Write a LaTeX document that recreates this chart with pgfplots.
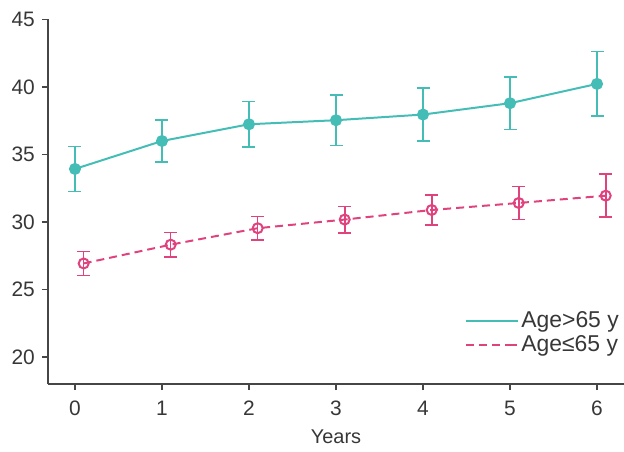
\documentclass[border=0pt]{standalone}
\usepackage{fontspec}
\setmainfont{Liberation Sans}
\usepackage{pgfplots}
\pgfplotsset{compat=1.18}
\definecolor{tealc}{RGB}{68,189,182}
\definecolor{magc}{RGB}{224,66,126}
\definecolor{axc}{RGB}{70,70,70}
\definecolor{txc}{RGB}{55,55,55}
\begin{document}
\fontsize{21}{24}\selectfont
\begin{tikzpicture}
\begin{axis}[
  scale only axis,
  width=576bp, height=364.5bp,
  xmin=-0.31, xmax=6.31,
  ymin=18, ymax=45,
  axis lines=left,
  axis line style={-, axc, line width=1.3pt},
  tick style={axc, line width=1.3pt},
  tick align=outside,
  major tick length=6bp,
  xtick={0,...,6},
  ytick={20,25,...,45},
  xlabel={Years},
  xticklabel style={yshift=-4bp},
  xlabel style={yshift=-6bp, inner ysep=1bp},
  tick label style={font=\fontsize{21}{24}\selectfont, text=txc},
  label style={font=\fontsize{20}{24}\selectfont, text=txc},
  /pgf/number format/assume math mode=true,
  legend style={draw=none, fill=none, at={(1.0,0.21)}, anchor=north east,
    font=\fontsize{23}{24}\selectfont, text=txc, row sep=1bp},
  legend cell align=left,
  legend image code/.code={\draw[#1] (0bp,0bp) -- (43bp,0bp); \path (43bp,0bp) -- (52bp,0bp);},
]
\coordinate (o) at (rel axis cs:0,0);
% Age>65 y
\addplot[tealc, line width=2pt, mark=*, mark size=5bp,
  error bars/.cd, y dir=both, y explicit,
  error bar style={line width=1.6pt, tealc},
  error mark options={tealc, line width=1.6pt, mark size=6.5bp, rotate=90}]
  coordinates {
  (0,33.93) +- (0,1.66)
  (1,36.0) +- (0,1.55)
  (2,37.24) +- (0,1.7)
  (3,37.54) +- (0,1.88)
  (4,37.96) +- (0,1.95)
  (5,38.8) +- (0,1.94)
  (6,40.23) +- (0,2.4)
  };
% Age<=65 y
\addplot[magc, line width=2pt, dash pattern=on 8bp off 5bp,
  mark=o, mark size=5bp, mark options={solid},
  error bars/.cd, y dir=both, y explicit,
  error bar style={line width=1.6pt, magc, solid},
  error mark options={magc, line width=1.6pt, mark size=6.5bp, rotate=90, solid}]
  coordinates {
  (0.1,26.93) +- (0,0.88)
  (1.1,28.32) +- (0,0.9)
  (2.1,29.54) +- (0,0.88)
  (3.1,30.18) +- (0,0.98)
  (4.1,30.89) +- (0,1.13)
  (5.1,31.41) +- (0,1.22)
  (6.1,31.95) +- (0,1.6)
  };
\legend{Age>65 y, Age≤65 y}
\end{axis}
\pgfresetboundingbox
\path (o) ++(-48bp,-68bp) rectangle ++(624bp,452bp);
\end{tikzpicture}
\end{document}
